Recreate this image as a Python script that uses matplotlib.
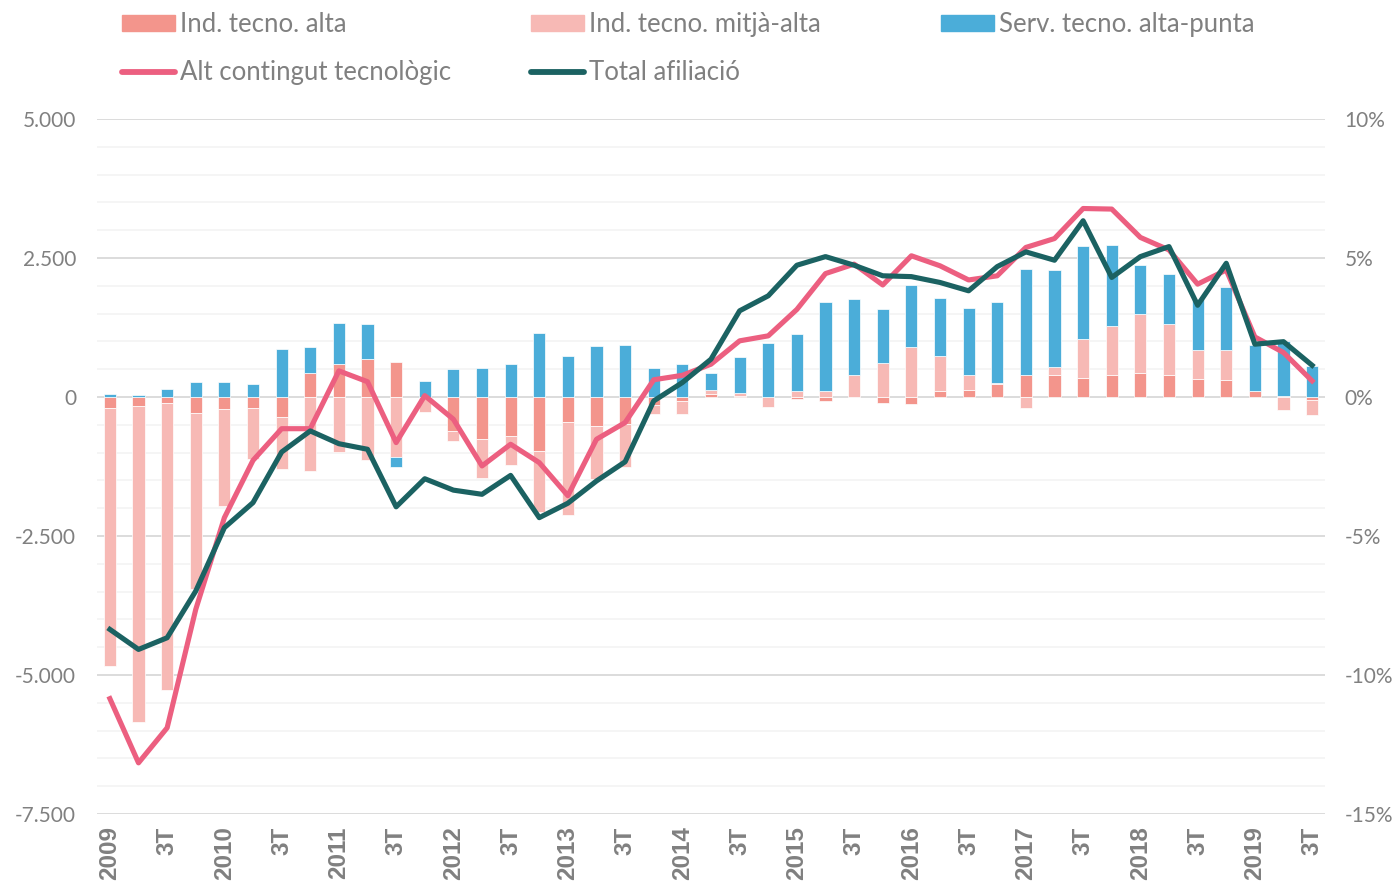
import matplotlib.pyplot as plt
from matplotlib.patches import Patch
from matplotlib.lines import Line2D
import numpy as np

# quarters 2009 Q1 .. 2019 Q3
years = list(range(2009, 2020))
labels = []
for y in years:
    labels += [str(y), "", "3T", ""]
labels = labels[:43]

ind_alta = [-190, -167, -113, -288, -221, -203, -365, 438, 590, 691, 637, -20, -610, -760, -700,
            -970, -450, -522, -480, -150, -70, 60, 20, 0, -35, -80, 0, -100, -120, 100,
            130, 230, 400, 390, 350, 400, 440, 400, 318, 300, 100, 20, -50]
ind_mitja = [-4640, -5673, -5157, -3170, -1739, -917, -925, -1330, -983, -1134, -1080, -250, -190, -690, -530,
             -1100, -1674, -959, -780, -150, -230, 60, 50, -180, 100, 115, 400, 610, 900, 645,
             260, 20, -200, 150, 695, 870, 1050, 910, 522, 540, 0, -230, -280]
serv_alta = [61, 30, 139, 277, 277, 240, 860, 467, 737, 629, -180, 288, 500, 530, 600,
             1160, 740, 920, 930, 517, 590, 305, 655, 965, 1035, 1595, 1370, 980, 1110, 1035,
             1210, 1450, 1910, 1740, 1665, 1460, 885, 905, 920, 1140, 830, 995, 565]

# % (right axis)
alt_contingut = [-10.85, -13.16, -11.9, -7.64, -4.34, -2.28, -1.14, -1.14, 0.94, 0.55, -1.64, 0.05, -0.80, -2.48, -1.70,
                 -2.36, -3.55, -1.52, -0.92, 0.62, 0.78, 1.18, 2.02, 2.20, 3.15, 4.44, 4.78, 4.03, 5.08, 4.72,
                 4.21, 4.36, 5.38, 5.70, 6.78, 6.76, 5.74, 5.29, 4.06, 4.57, 2.16, 1.60, 0.58]
total_afiliacio = [-8.36, -9.08, -8.66, -6.98, -4.70, -3.80, -1.98, -1.22, -1.68, -1.88, -3.95, -2.94, -3.35, -3.50, -2.82,
                   -4.34, -3.82, -3.02, -2.33, -0.14, 0.52, 1.36, 3.10, 3.64, 4.74, 5.05, 4.74, 4.36, 4.33, 4.12,
                   3.82, 4.69, 5.22, 4.92, 6.34, 4.30, 5.05, 5.41, 3.30, 4.81, 1.90, 1.99, 1.14]

C_ALTA = "#F3958C"
C_MITJA = "#F7B9B5"
C_SERV = "#4BADD9"
C_PINK = "#EC5F80"
C_GREEN = "#1B6262"
GREY = "#808080"

fig = plt.figure(figsize=(13.92, 8.86), dpi=100)
ax = fig.add_axes([97 / 1392, 1 - 814 / 886, (1325 - 97) / 1392, (814 - 119) / 886])

x = np.arange(len(labels))
pos_base = np.zeros(len(x))
neg_base = np.zeros(len(x))
for vals, col in [(ind_alta, C_ALTA), (ind_mitja, C_MITJA), (serv_alta, C_SERV)]:
    v = np.array(vals, dtype=float)
    bottom = np.where(v >= 0, pos_base, neg_base)
    ax.bar(x, v, bottom=bottom, width=0.42, color=col, edgecolor="white", linewidth=0.5, zorder=2)
    pos_base = pos_base + np.clip(v, 0, None)
    neg_base = neg_base + np.clip(v, None, 0)

ax.set_xlim(-0.45, 42.45)
ax.set_ylim(-7500, 5000)
ax.set_yticks(np.arange(-7500, 5001, 2500))
ax.set_yticks(np.arange(-7500, 5001, 500), minor=True)
ax.set_yticklabels([f"{v:,.0f}".replace(",", ".") for v in np.arange(-7500, 5001, 2500)],
                   fontsize=15, color=GREY, family="Lato")
ax.grid(axis="y", which="major", color="#D9D9D9", linewidth=1.3, zorder=0)
ax.grid(axis="y", which="minor", color="#F2F2F2", linewidth=1.1, zorder=0)
ax.set_axisbelow(True)
ax.tick_params(axis="y", which="both", length=0, pad=15)
ax.set_xticks(x)
ax.set_xticklabels(labels, rotation=90, fontsize=17.5, fontweight="bold", color=GREY, family="Liberation Sans")
ax.tick_params(axis="x", length=0, pad=9)

ax2 = ax.twinx()
ax2.plot(x, alt_contingut, color=C_PINK, linewidth=3.7, zorder=3)
ax2.plot(x, total_afiliacio, color=C_GREEN, linewidth=3.7, zorder=4)
ax2.set_ylim(-15, 10)
ax2.set_yticks(np.arange(-15, 11, 5))
ax2.set_yticklabels([f"{v}%" for v in np.arange(-15, 11, 5)], fontsize=15, color=GREY, family="Lato")
ax2.tick_params(axis="y", length=0, pad=14)

for a in (ax, ax2):
    for s in a.spines.values():
        s.set_visible(False)

# legend: three columns placed by hand
leg_kw = dict(frameon=False, loc="upper left", borderpad=0, borderaxespad=0, handlelength=2.05,
              handleheight=0.6, handletextpad=0.22, labelspacing=0.9, labelcolor=GREY,
              prop={"family": "Lato", "size": 18.5})
col1 = [Patch(color=C_ALTA), Line2D([], [], color=C_PINK, linewidth=4.2, solid_capstyle="round")]
col2 = [Patch(color=C_MITJA), Line2D([], [], color=C_GREEN, linewidth=4.2, solid_capstyle="round")]
col3 = [Patch(color=C_SERV)]
top = 1 - 12 / 886
fig.legend(col1, ["Ind. tecno. alta", "Alt contingut tecnològic"], bbox_to_anchor=(122 / 1392, top), **leg_kw)
fig.legend(col2, ["Ind. tecno. mitjà-alta", "Total afiliació"], bbox_to_anchor=(531 / 1392, top), **leg_kw)
fig.legend(col3, ["Serv. tecno. alta-punta"], bbox_to_anchor=(941 / 1392, top), **leg_kw)

fig.savefig("out.png", dpi=100)
